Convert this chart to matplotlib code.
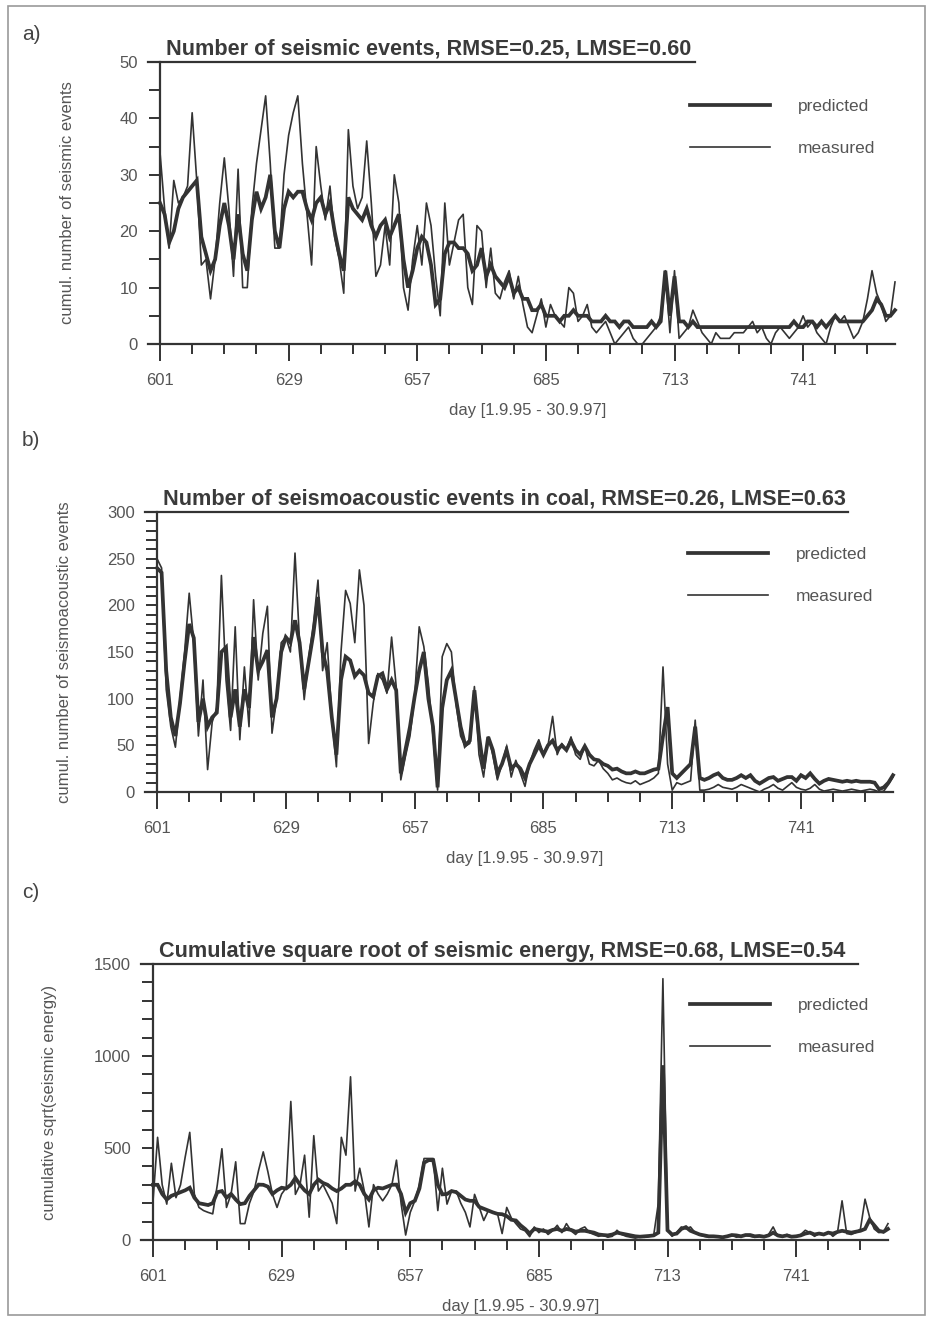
"""
Predicted vs measured seismic activity, three stacked panels
"""

import numpy as np
import matplotlib
matplotlib.use('Agg')
import matplotlib.pyplot as plt
from matplotlib.patches import Rectangle
from matplotlib.ticker import FixedLocator, MultipleLocator

plt.rcParams['font.family'] = ['Liberation Sans', 'DejaVu Sans']

days = np.arange(601, 762)
major_days = np.arange(601, 762, 28)
minor_days = np.arange(601, 762, 7)

# a) number of seismic events
events_measured = [
    34, 24, 17, 29, 25, 26, 28, 41, 29, 14,
    15, 8, 15, 25, 33, 24, 12, 31, 10, 10,
    24, 32, 38, 44, 32, 17, 17, 30, 37, 41,
    44, 32, 23, 14, 35, 28, 22, 28, 19, 15,
    9, 38, 28, 24, 26, 36, 25, 12, 14, 21,
    14, 30, 25, 10, 6, 15, 21, 14, 25, 21,
    12, 5, 25, 14, 18, 22, 23, 10, 7, 21,
    20, 10, 17, 9, 8, 11, 13, 8, 12, 7,
    3, 2, 5, 8, 3, 7, 5, 4, 3, 10,
    9, 4, 5, 7, 3, 2, 3, 4, 2, 0,
    1, 2, 3, 1, 0, 0, 1, 2, 3, 5,
    13, 2, 13, 1, 2, 3, 6, 4, 2, 1,
    0, 2, 1, 1, 1, 2, 2, 2, 3, 4,
    2, 3, 1, 0, 2, 3, 2, 1, 2, 3,
    5, 3, 4, 2, 1, 0, 3, 5, 4, 5,
    3, 1, 2, 4, 8, 13, 9, 7, 4, 5,
    11]
events_predicted = [
    25, 23, 18, 20, 24, 26, 27, 28, 29, 19,
    16, 13, 15, 21, 25, 21, 15, 23, 16, 13,
    22, 27, 24, 26, 30, 20, 17, 24, 27, 26,
    27, 27, 24, 22, 25, 26, 23, 25, 20, 16,
    13, 26, 24, 23, 22, 24, 21, 19, 21, 22,
    19, 21, 23, 15, 10, 13, 17, 19, 18, 14,
    7, 8, 16, 18, 18, 17, 17, 16, 13, 14,
    17, 12, 14, 12, 11, 10, 12, 9, 10, 8,
    8, 6, 6, 7, 5, 5, 5, 4, 5, 5,
    6, 5, 5, 5, 4, 4, 4, 5, 4, 4,
    3, 4, 4, 3, 3, 3, 3, 4, 3, 4,
    13, 5, 12, 4, 4, 3, 4, 3, 3, 3,
    3, 3, 3, 3, 3, 3, 3, 3, 3, 3,
    3, 3, 3, 3, 3, 3, 3, 3, 4, 3,
    3, 4, 4, 3, 4, 3, 4, 5, 4, 4,
    4, 4, 4, 4, 5, 6, 8, 7, 5, 5,
    6]

# b) number of seismoacoustic events in coal
acoustic_measured = [
    250, 240, 110, 70, 48, 100, 150, 213, 160, 60,
    120, 24, 75, 90, 232, 120, 66, 177, 56, 134,
    70, 206, 120, 170, 199, 63, 100, 160, 166, 150,
    256, 160, 99, 145, 180, 227, 130, 160, 81, 27,
    150, 216, 202, 160, 238, 200, 52, 95, 127, 120,
    106, 166, 113, 13, 38, 60, 102, 177, 156, 116,
    60, 2, 145, 159, 150, 95, 60, 49, 52, 113,
    40, 16, 59, 40, 13, 30, 49, 16, 34, 20,
    6, 31, 45, 56, 41, 50, 81, 40, 52, 45,
    59, 40, 35, 49, 30, 28, 34, 25, 20, 13,
    15, 12, 10, 9, 12, 8, 10, 12, 15, 20,
    134, 30, 2, 10, 8, 10, 12, 77, 2, 2,
    3, 5, 8, 5, 4, 3, 5, 8, 6, 4,
    2, 0, 3, 5, 8, 4, 2, 6, 10, 5,
    3, 2, 4, 8, 3, 1, 2, 3, 2, 1,
    2, 3, 2, 1, 2, 3, 2, 0, 1, 8,
    16]
acoustic_predicted = [
    240, 235, 130, 80, 60, 95, 140, 180, 165, 75,
    100, 70, 80, 85, 150, 155, 80, 110, 70, 110,
    90, 166, 130, 140, 152, 80, 100, 150, 166, 160,
    184, 160, 110, 140, 170, 209, 150, 130, 80, 40,
    120, 145, 141, 124, 130, 125, 106, 102, 124, 127,
    110, 120, 109, 20, 45, 70, 102, 130, 150, 100,
    70, 5, 90, 120, 130, 100, 70, 50, 55, 109,
    60, 25, 59, 45, 20, 30, 45, 25, 30, 25,
    15, 30, 40, 50, 40, 50, 55, 45, 50, 45,
    55, 45, 40, 49, 40, 35, 34, 30, 28, 24,
    25, 22, 20, 20, 22, 20, 20, 22, 24, 25,
    60, 91, 20, 15, 20, 25, 30, 70, 15, 13,
    15, 18, 20, 15, 13, 13, 15, 18, 15, 18,
    12, 9, 12, 15, 16, 12, 14, 16, 16, 12,
    18, 15, 20, 14, 9, 12, 14, 13, 12, 11,
    12, 11, 12, 11, 11, 11, 10, 3, 5, 10,
    18]

# c) cumulative square root of seismic energy
energy_measured = [
    210, 558, 300, 195, 417, 230, 300, 450, 585, 250,
    177, 160, 150, 142, 300, 496, 177, 250, 425, 89,
    89, 200, 266, 380, 479, 372, 250, 177, 250, 284,
    753, 248, 300, 461, 124, 567, 266, 301, 250, 200,
    89, 558, 461, 887, 266, 390, 266, 71, 301, 250,
    213, 250, 300, 434, 200, 27, 150, 213, 300, 443,
    443, 443, 160, 390, 195, 266, 266, 200, 150, 71,
    248, 180, 106, 160, 150, 142, 35, 177, 120, 89,
    60, 50, 18, 71, 40, 60, 30, 50, 80, 40,
    89, 50, 30, 60, 71, 40, 30, 20, 27, 15,
    20, 53, 30, 20, 15, 10, 18, 15, 20, 27,
    200, 1420, 53, 20, 40, 71, 60, 71, 40, 27,
    20, 15, 20, 18, 10, 20, 27, 15, 20, 27,
    20, 15, 20, 18, 30, 71, 20, 18, 30, 20,
    18, 30, 53, 40, 20, 35, 30, 44, 20, 40,
    213, 35, 30, 40, 60, 222, 124, 60, 40, 44,
    89]
energy_predicted = [
    300, 300, 250, 220, 240, 250, 260, 270, 284, 230,
    200, 195, 190, 200, 260, 266, 230, 250, 220, 195,
    200, 240, 270, 301, 300, 290, 250, 270, 284, 280,
    300, 337, 300, 270, 250, 300, 328, 310, 300, 280,
    266, 280, 300, 300, 319, 300, 250, 220, 270, 284,
    280, 290, 300, 301, 250, 150, 200, 213, 280, 420,
    434, 434, 300, 248, 250, 266, 260, 240, 220, 213,
    213, 180, 170, 160, 150, 142, 140, 130, 110, 106,
    80, 60, 35, 60, 55, 50, 45, 55, 60, 50,
    60, 55, 45, 50, 50, 45, 40, 30, 27, 25,
    30, 40, 35, 30, 25, 20, 18, 20, 22, 25,
    40, 950, 53, 30, 35, 60, 70, 50, 40, 30,
    25, 20, 20, 18, 15, 20, 27, 25, 20, 27,
    27, 20, 22, 18, 25, 40, 25, 20, 25, 18,
    20, 25, 35, 40, 30, 35, 30, 40, 35, 44,
    50, 45, 40, 45, 50, 60, 110, 80, 50, 44,
    60]

panels = [
    dict(tag='a)', measured=events_measured, predicted=events_predicted,
         title='Number of seismic events, RMSE=0.25, LMSE=0.60',
         ylabel='cumul. number of seismic events',
         ymax=50, major=10, minor=5,
         box=(160, 62, 895, 344), tag_y=35, line_end=695,
         ylabel_x=75, legend_x=690, legend_y=106),
    dict(tag='b)', measured=acoustic_measured, predicted=acoustic_predicted,
         title='Number of seismoacoustic events in coal, RMSE=0.26, LMSE=0.63',
         ylabel='cumul. number of seismoacoustic events',
         ymax=300, major=50, minor=10,
         box=(157, 512, 893, 792), tag_y=440, line_end=848,
         ylabel_x=72, legend_x=688, legend_y=554),
    dict(tag='c)', measured=energy_measured, predicted=energy_predicted,
         title='Cumulative square root of seismic energy, RMSE=0.68, LMSE=0.54',
         ylabel='cumulative sqrt(seismic energy)',
         ymax=1500, major=500, minor=100,
         box=(153, 964, 888, 1240), tag_y=893, line_end=858,
         ylabel_x=57, legend_x=690, legend_y=1005),
]

W, H = 933, 1321
ink = '#333333'
text_gray = '#555555'

fig = plt.figure(figsize=(W / 100, H / 100), dpi=100)
fig.patch.set_facecolor('white')

# scanned page frame
fig.patches.append(Rectangle((8 / W, 6 / H), 917 / W, 1309 / H,
                             transform=fig.transFigure, fill=False,
                             edgecolor='#9a9a9a', linewidth=1.2))

for p in panels:
    x0, y0, x1, y1 = p['box']
    ax = fig.add_axes([x0 / W, 1 - y1 / H, (x1 - x0) / W, (y1 - y0) / H])
    ax.set_facecolor('none')

    ax.plot(days, p['predicted'], color=ink, linewidth=2.7,
            solid_joinstyle='miter', label='predicted', clip_on=False)
    ax.plot(days, p['measured'], color=ink, linewidth=1.2,
            label='measured', clip_on=False)

    ax.set_xlim(601, 761)
    ax.set_ylim(0, p['ymax'])
    ax.xaxis.set_major_locator(FixedLocator(major_days))
    ax.xaxis.set_minor_locator(FixedLocator(minor_days))
    ax.yaxis.set_major_locator(MultipleLocator(p['major']))
    ax.yaxis.set_minor_locator(MultipleLocator(p['minor']))

    for side in ['top', 'right', 'bottom']:
        ax.spines[side].set_visible(False)
    ax.spines['left'].set_linewidth(1.6)
    ax.spines['left'].set_color(ink)

    # bottom axis and title rule, both running past the y axis
    wpx = x1 - x0
    ax.plot([-12 / wpx, 1.0], [0, 0], transform=ax.transAxes,
            color=ink, linewidth=1.6, clip_on=False)
    ax.plot([-12 / wpx, (p['line_end'] - x0) / wpx], [1, 1],
            transform=ax.transAxes, color=ink, linewidth=1.6, clip_on=False)

    ax.tick_params(axis='both', which='both', direction='out', color=ink,
                   width=1.4, labelcolor=text_gray, labelsize=12)
    ax.tick_params(axis='x', which='major', length=12, pad=9)
    ax.tick_params(axis='x', which='minor', length=7)
    ax.tick_params(axis='y', which='major', length=8, pad=8)
    ax.tick_params(axis='y', which='minor', length=8)

    ax.set_xlabel('day [1.9.95 - 30.9.97]', fontsize=12, color=text_gray,
                  labelpad=11)
    ax.set_ylabel(p['ylabel'], fontsize=12, color=text_gray)
    ax.yaxis.set_label_coords((p['ylabel_x'] - x0) / wpx, 0.5)

    ax.text(6 / wpx, 1.008, p['title'], transform=ax.transAxes,
            fontsize=15.6, fontweight='bold', color='#3a3a3a',
            ha='left', va='bottom')

    ax.legend(loc='upper left', frameon=False, fontsize=12.5,
              labelcolor=text_gray, handlelength=4.6,
              handletextpad=1.6, labelspacing=1.55,
              borderpad=0, borderaxespad=0,
              bbox_to_anchor=((p['legend_x'] - x0) / wpx,
                              (y1 - p['legend_y'] + 7) / (y1 - y0)))

    fig.text(22 / W, 1 - p['tag_y'] / H, p['tag'], fontsize=15,
             color='#444444', ha='left', va='center')

fig.savefig('out.png', dpi=100, facecolor='white')
